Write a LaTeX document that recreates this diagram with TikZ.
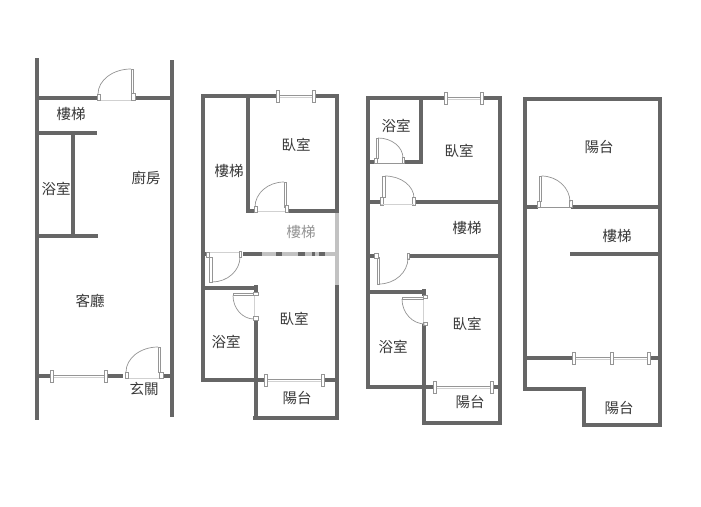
\documentclass[tikz,border=0pt]{standalone}
\usepackage{fontspec}
\setmainfont{Noto Sans CJK TC}
\usetikzlibrary{calc}
\definecolor{wallc}{HTML}{666666}
\definecolor{thinc}{HTML}{959595}
\tikzset{
  wall/.style={draw=wallc,line width=3.8pt,line cap=butt},
  wash/.style={draw=black!24,line width=3.8pt,line cap=butt},
  thin/.style={draw=thinc,line width=0.7pt},
  faint/.style={draw=black!18,line width=0.5pt},
  jamb/.style={draw=thinc,fill=white,line width=0.7pt},
  lab/.style={font=\fontsize{14.5}{15}\selectfont,text=black!78,inner sep=0pt},
}
% horizontal window on wall: x1,x2,y
\newcommand{\winh}[3]{%
  \draw[thin,line width=1pt] (#1,#3-1) -- (#2,#3-1);
  \draw[faint] (#1,#3+1) -- (#2,#3+1);
  \filldraw[jamb] (#1-1.5,#3-6) rectangle (#1+1.5,#3+6);
  \filldraw[jamb] (#2-1.5,#3-6) rectangle (#2+1.5,#3+6);}
% door arc: start, corner, end
\newcommand{\swing}[6]{%
  \coordinate (sa) at (#1,#2); \coordinate (sc) at (#3,#4); \coordinate (sb) at (#5,#6);
  \draw[thin] (sa) .. controls ($(sa)!.55!(sc)$) and ($(sb)!.55!(sc)$) .. (sb);}
% door leaf rectangle
\newcommand{\leaf}[4]{\filldraw[jamb] (#1,#2) rectangle (#3,#4);}
\begin{document}
\begin{tikzpicture}[x=1pt,y=-1pt]
\useasboundingbox (0,0) rectangle (701,506);
\fill[white] (0,0) rectangle (701,506);

%% PLAN 1
\draw[wall] (36.8,58) -- (36.8,420);
\draw[wall] (171.7,60) -- (171.7,417);
\draw[wall] (37,98) -- (97,98);
\draw[wall] (136,98) -- (171,98);
\draw[wall] (37,133) -- (97,133);
\draw[wall] (73,133) -- (73,236);
\draw[wall] (37,236) -- (98,236);
\draw[wall] (37,376) -- (51,376);
\draw[wall] (106,376) -- (123,376);
\draw[wall] (161,376) -- (171,376);
\winh{51.5}{105.5}{376}
\draw[faint] (98,100) -- (135,100);
\leaf{131}{69}{133.6}{93}\leaf{131}{93}{135.5}{100}\leaf{97}{94}{100}{100}
\swing{131}{69}{98}{69}{98}{94}
\draw[faint] (126,378) -- (162,378);
\leaf{158}{347}{160.8}{372}\leaf{159}{372}{163}{378}\leaf{125}{372}{128}{378}
\swing{158}{347}{126}{347}{126}{372}
\node[lab] (a1) at (71,114) {樓梯};
\node[lab] (a2) at (146,178) {廚房};
\node[lab] (a3) at (56,189) {浴室};
\node[lab] (a4) at (90,301) {客廳};
\node[lab] (a5) at (144,389) {玄關};

%% PLAN 2
\draw[wall] (202.7,94) -- (202.7,382);
\draw[wall] (201,96) -- (278,96);
\draw[wall] (314,96) -- (338.5,96);
\draw[wall] (337,96) -- (337,211);
\draw[wash] (337,211) -- (337,285);
\draw[wall] (337,285) -- (337,420);
\draw[wall] (248,96) -- (248,213);
\draw[wall] (248,211) -- (255,211);
\draw[wall] (288,211) -- (339,211);
\draw[wall] (203,254) -- (208,254);
\draw[wash] (243,254) -- (336,254);
\draw[wall] (243,254) -- (262,254);
\draw[wall] (276,254) -- (282,254);
\draw[wall] (298,254) -- (305,254);
\draw[wall] (312,254) -- (315,254);
\draw[wall] (319,254) -- (325,254);
\draw[wall] (202,288) -- (258,288);
\draw[wall] (255.7,285) -- (255.7,293);
\draw[wall] (255.7,319) -- (255.7,420);
\draw[wall] (253,418) -- (338.5,418);
\draw[wall] (201,380) -- (265,380);
\draw[wall] (323,380) -- (337,380);
\winh{265.5}{323}{380}
\winh{278}{314}{96}
\draw[faint] (255,211) -- (288,211);
\leaf{284}{182}{286}{207}\leaf{254}{206}{257}{212}\leaf{285}{205}{288.5}{212}
\swing{284}{182}{255}{182}{255}{207}
\draw[faint] (208,252) -- (240,252);
\leaf{209}{257}{212}{282}\leaf{206}{252}{209}{257}\leaf{239}{251}{241.5}{257}
\swing{212}{282}{240}{282}{240}{257}
\draw[faint] (254,292) -- (254,319);
\leaf{233}{293}{253}{295.5}\leaf{253}{292}{258}{295.5}\leaf{253}{316}{258}{320}
\swing{233}{295.5}{233}{319}{254}{319}
\node[lab] (b1) at (296,145) {臥室};
\node[lab] (b2) at (229,171) {樓梯};
\node[lab,text=black!42] (b3) at (301,232) {樓梯};
\node[lab] (b4) at (294,319) {臥室};
\node[lab] (b5) at (226,342) {浴室};
\node[lab] (b6) at (297,398) {陽台};

%% PLAN 3
\draw[wall] (368,96) -- (368,389);
\draw[wall] (366,98) -- (446,98);
\draw[wall] (482,98) -- (502,98);
\draw[wall] (500,96) -- (500,425);
\draw[wall] (421,98) -- (421,164);
\draw[wall] (368,162) -- (376,162);
\draw[wall] (403,162) -- (423,162);
\draw[wall] (368,202) -- (381,202);
\draw[wall] (414,202) -- (502,202);
\draw[wall] (368,256) -- (376,256);
\draw[wall] (408,256) -- (500,256);
\draw[wall] (368,292) -- (426,292);
\draw[wall] (424,289) -- (424,296);
\draw[wall] (424,324) -- (424,425);
\draw[wall] (422,423) -- (502,423);
\draw[wall] (366,387) -- (435,387);
\draw[wall] (492,387) -- (502,387);
\winh{446}{482}{98}
\winh{435}{492}{387}
\draw[thin] (376,163) -- (403,163);
\leaf{376}{138}{378}{158}\leaf{374.5}{158}{377.5}{163}\leaf{402}{157}{404.5}{163}
\swing{378}{138}{403}{138}{403}{158}
\leaf{382}{176}{385}{197}\leaf{380}{197}{383.5}{205}\leaf{412.5}{197}{415.5}{205}
\draw[faint] (381,204) -- (414,204);
\swing{385}{176}{414}{176}{414}{198}
\leaf{377}{257}{379}{284}\leaf{374.5}{253}{378}{258}\leaf{407}{253}{409.5}{259}
\swing{379}{284}{408}{284}{408}{258}
\draw[faint] (423,296) -- (423,324);
\leaf{402}{297}{423}{299}\leaf{423}{295}{427}{298}\leaf{423}{322}{427}{325}
\swing{402}{299}{402}{324}{425}{324}
\node[lab] (c1) at (396,126) {浴室};
\node[lab] (c2) at (459,151) {臥室};
\node[lab] (c3) at (467,228) {樓梯};
\node[lab] (c4) at (467,324) {臥室};
\node[lab] (c5) at (393,347) {浴室};
\node[lab] (c6) at (470,402) {陽台};

%% PLAN 4
\draw[wall] (525,97) -- (525,391);
\draw[wall] (525,99) -- (662,99);
\draw[wall] (660,99) -- (660,427);
\draw[wall] (525,207) -- (538,207);
\draw[wall] (571,207) -- (660,207);
\draw[wall] (570,254) -- (660,254);
\draw[wall] (525,358) -- (573,358);
\draw[wall] (649,358) -- (660,358);
\draw[wall] (525,389) -- (586,389);
\draw[wall] (584,389) -- (584,427);
\draw[wall] (582,425) -- (662,425);
\winh{574}{612}{358}
\winh{612}{649}{358}
\draw[thin] (538,207.5) -- (571,207.5);
\leaf{539.5}{176}{541.5}{201}\leaf{537.5}{201}{540.5}{207}\leaf{569}{200}{572}{207}
\swing{541.5}{176}{570}{176}{570}{202}
\node[lab] (d1) at (599,147) {陽台};
\node[lab] (d2) at (617,236) {樓梯};
\node[lab] (d3) at (619,408) {陽台};
\end{tikzpicture}
\end{document}
